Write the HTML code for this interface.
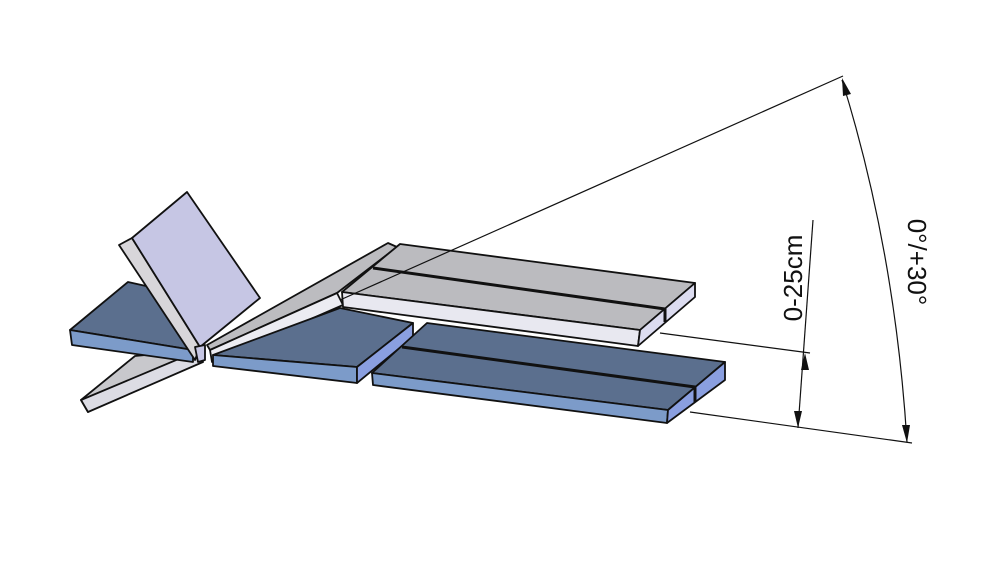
<!DOCTYPE html>
<html><head><meta charset="utf-8"><style>
html,body{margin:0;padding:0;background:#fff;width:1000px;height:573px;overflow:hidden}
svg{display:block}
text{font-family:"Liberation Sans",sans-serif;font-size:26px;fill:#111}
</style></head><body>
<svg width="1000" height="573" viewBox="0 0 1000 573" stroke="#111" stroke-width="1.8" stroke-linejoin="round">
<!-- lower grey leg-down slab -->
<polygon points="81,400 135,356 200,350 88,412" fill="#c8c8cc"/>
<polygon points="81,400 88,412 203,362 200,350" fill="#dcdce4"/>
<!-- head blue slab -->
<polygon points="70,330 128,282 200,298 193,350" fill="#5b6f8e"/>
<polygon points="70,330 193,350 193,362 72,345" fill="#7c9bc9"/>
<!-- backrest -->
<polygon points="119,245 132,238 200,347 195,360" fill="#d8d6da"/>
<polygon points="132,238 187,192 260,298 200,347" fill="#c6c6e4"/>
<polygon points="195,347 205,345 205,360 198,362" fill="#c6c6e4"/>
<!-- middle inclined slab -->
<polygon points="207,345 388,243 397,247 337,293 210,350" fill="#bcbcc0"/>
<polygon points="210,350 337,293 343,305 212,362" fill="#ececf2"/>
<!-- upper grey slab -->
<polygon points="400,244 695,283 640,330 342,292" fill="#bbbbbf"/>
<polygon points="342,292 640,330 638,346 343,307" fill="#e8e8f0"/>
<polygon points="640,330 695,283 695,297 638,346" fill="#dcdcf0"/>
<polyline points="373,268 665,309 665,322" fill="none" stroke-width="3"/>
<!-- middle blue slab -->
<polygon points="213,355 340,308 413,323 357,367" fill="#5b6f8e"/>
<polygon points="213,355 357,367 357,383 213,366" fill="#7c9bc9"/>
<polygon points="357,367 413,323 413,337 357,383" fill="#8a9fe0"/>
<!-- lower blue long slab -->
<polygon points="427,323 725,362 668,410 372,373" fill="#5b6f8e"/>
<polygon points="372,373 668,410 667,423 373,385" fill="#7c9bc9"/>
<polygon points="668,410 725,362 725,380 667,423" fill="#8a9fe0"/>
<polyline points="402,347 695,387 695,402" fill="none" stroke-width="3"/>
<!-- dimension lines -->
<g stroke-width="1.2" fill="none">
<line x1="340" y1="300" x2="843" y2="76"/>
<line x1="690" y1="412" x2="912" y2="443"/>
<line x1="660" y1="333" x2="810" y2="353"/>
<line x1="813" y1="220" x2="798" y2="428"/>
<path d="M842,80 Q895,250 907,442"/>
</g>
<g fill="#111" stroke="none">
<polygon points="805,353 801,370 809,370"/>
<polygon points="798,428 794,411 802,411"/>
<polygon points="842,78 843,96 851,94"/>
<polygon points="907,443 902,425 910,425"/>
</g>
<text transform="translate(802,278) rotate(-90)" text-anchor="middle" stroke="none">0-25cm</text>
<text transform="translate(908,262) rotate(90)" text-anchor="middle" stroke="none">0°/+30°</text>
</svg>
</body></html>
